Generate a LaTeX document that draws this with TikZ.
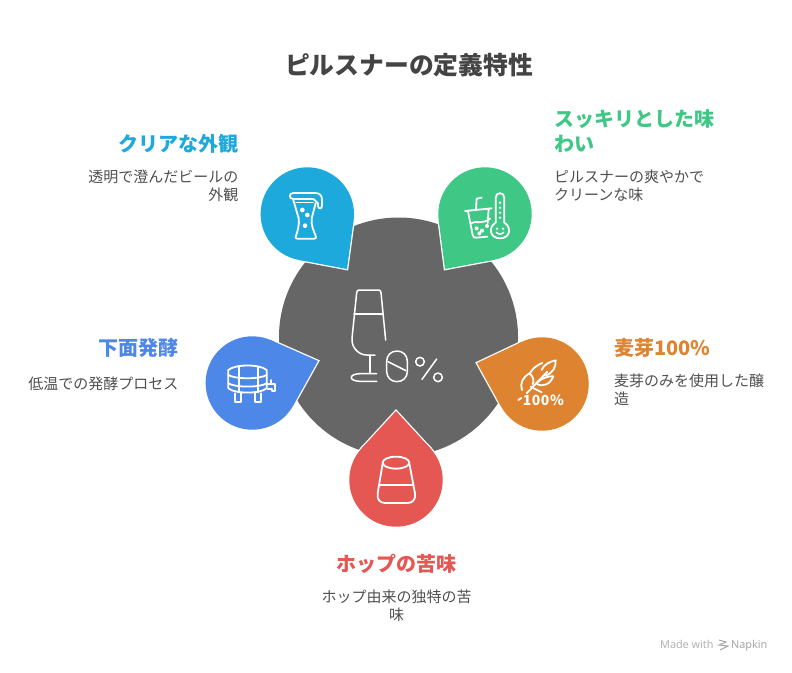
\documentclass[tikz,border=0pt]{standalone}
\usepackage{fontspec}
\setmainfont{Noto Sans CJK JP}
\newfontfamily\footfont{Noto Sans}
\definecolor{cBlue}{HTML}{1EA9DC}
\definecolor{cGreen}{HTML}{3EC785}
\definecolor{cOrange}{HTML}{DE8431}
\definecolor{cRed}{HTML}{E55753}
\definecolor{cIndigo}{HTML}{4D87E8}
\definecolor{cHub}{HTML}{666666}
\definecolor{cTitle}{HTML}{444444}
\definecolor{cBody}{HTML}{505050}
\tikzset{
  icon/.style={draw=white,line width=1.8pt,line cap=round,line join=round,fill=none},
  iconthin/.style={icon,line width=1.5pt},
  dot/.style={fill=white,draw=none},
  titletext/.style={font=\fontsize{24.8}{30}\selectfont\bfseries,text=cTitle,inner sep=0pt},
  headtext/.style={font=\fontsize{20}{25}\selectfont\bfseries,inner sep=0pt},
  bodytext/.style={font=\fontsize{15}{18}\selectfont,text=cBody,inner sep=0pt},
}
% \dropshape{cx}{cy}{tipx}{tipy}{colour}
\newcommand{\dropshape}[5]{%
  \pgfmathsetmacro{\dropd}{veclen(#3-#1,#4-#2)}%
  \pgfmathsetmacro{\dropa}{atan2(#4-#2,#3-#1)}%
  \pgfmathsetmacro{\dropb}{acos(46.7/\dropd)}%
  \pgfmathsetmacro{\dropP}{\dropa+\dropb}%
  \pgfmathsetmacro{\dropQ}{\dropa-\dropb}%
  \def\dropkite{(#3,#4) -- ({#1+46.7*cos(\dropP)},{#2+46.7*sin(\dropP)}) -- (#1,#2) -- ({#1+46.7*cos(\dropQ)},{#2+46.7*sin(\dropQ)}) -- cycle}%
  \draw[white,line width=2.6pt,line join=miter] \dropkite;
  \draw[white,line width=2.6pt] (#1,#2) circle[radius=46.7];
  \fill[#5] \dropkite;
  \fill[#5] (#1,#2) circle[radius=46.7];
}
\begin{document}
\begin{tikzpicture}[x=1pt,y=-1pt]
\useasboundingbox (0,0) rectangle (792,672);
\fill[white] (0,0) rectangle (792,672);
\node[titletext] (title) at (409,65.5) {ピルスナーの定義特性};
\fill[cHub] (398.5,337) circle[radius=119.5];
\dropshape{307.3}{214}{347}{269}{cBlue}
\dropshape{485}{214}{445}{269}{cGreen}
\dropshape{542}{384}{477}{363}{cOrange}
\dropshape{396}{480}{396}{411}{cRed}
\dropshape{252.3}{383}{318}{361}{cIndigo}
% hub icon
\begin{scope}[shift={(200,280)},scale=1/3]
\draw[iconthin] (557,180) -- (543,38) .. controls (542,32) and (540,30) .. (535,30) -- (478,30) .. controls (473,30) and (471,32) .. (470,38) -- (456,175) .. controls (454,205) and (478,225) .. (500,225) -- (525,225);
\draw[iconthin] (462,102) -- (548,102);
\draw[iconthin] (510,225) -- (510,281);
\draw[iconthin] (530,281) -- (480,281) .. controls (445,282) and (445,303) .. (480,304) -- (530,304);
\draw[iconthin] (591,213) .. controls (609,213) and (622,226) .. (622,244) -- (622,274) .. controls (622,292) and (609,305) .. (591,305) .. controls (573,305) and (560,292) .. (560,274) -- (560,244) .. controls (560,226) and (573,213) .. (591,213) -- cycle;
\draw[iconthin] (564,245) -- (618,272);
\draw[iconthin] (660,245) circle[radius=13];
\draw[iconthin] (714,292) circle[radius=13];
\draw[iconthin] (710,237) -- (666,298);
\end{scope}
% beer icon
\begin{scope}[shift={(280,185)},scale=1/3]
\draw[icon] (100,42) -- (40,42) .. controls (26,42) and (26,24) .. (40,24) -- (105,24) .. controls (120,24) and (126,32) .. (126,45) -- (126,62) .. controls (126,73) and (114,73) .. (114,62) -- (114,55) .. controls (114,48) and (103,50) .. (100,42);
\draw[icon] (40,45) -- (56,100) .. controls (59,115) and (53,140) .. (47,155) .. controls (46,160) and (49,161) .. (52,161) -- (102,161) .. controls (107,161) and (109,159) .. (108,155) .. controls (102,140) and (92,120) .. (95,100) -- (107,55);
\draw[iconthin] (48,53) -- (100,53);
\fill[dot] (67,75) circle[radius=7] (82,90) circle[radius=7] (75,122) circle[radius=7];
\end{scope}
% cup and thermometer icon
\begin{scope}[shift={(250,160)},scale=1/3]
\draw[icon] (645,153) -- (725,145);
\draw[icon] (654,154) -- (668,225) .. controls (669,231) and (672,233) .. (678,233) -- (712,230);
\draw[icon] (716,147) -- (713,190);
\draw[icon] (678,148) -- (680,116) -- (695,113);
\draw[icon] (661,190) .. controls (680,180) and (695,195) .. (720,176);
\fill[dot] (680,205) circle[radius=6] (696,212) circle[radius=6] (711,198) circle[radius=6] (688,220) circle[radius=6];
\draw[icon] (737,188) -- (737,113) .. controls (737,95) and (763,95) .. (763,113) -- (763,188) .. controls (785,200) and (782,235) .. (750,235) .. controls (718,235) and (715,200) .. (737,188) -- cycle;
\fill[dot] (750,128) circle[radius=4] (750,143) circle[radius=4] (750,158) circle[radius=4] (750,173) circle[radius=4];
\fill[dot] (741,206) circle[radius=4] (759,206) circle[radius=4];
\draw[iconthin] (739,217) .. controls (745,224) and (755,224) .. (761,217);
\end{scope}
% wheat icon
\begin{scope}[shift={(510,355)},scale=1/3]
\draw[icon] (50,115) -- (112,50);
\draw[icon] (95,45) .. controls (100,30) and (118,20) .. (137,16) .. controls (138,35) and (130,55) .. (105,62);
\draw[icon] (78,85) .. controls (95,70) and (115,62) .. (130,64) .. controls (122,85) and (100,100) .. (78,85);
\draw[icon] (58,58) .. controls (66,42) and (80,30) .. (97,24);
\draw[icon] (36,105) .. controls (28,85) and (40,65) .. (58,55) .. controls (68,62) and (74,75) .. (68,88);
\draw[icon] (62,95) -- (95,112);
\draw[icon] (25,135) -- (34,129);
\node[inner sep=0pt,text=white,font=\fontsize{14}{14}\selectfont\bfseries\addfontfeature{LetterSpace=4}] (wheatlabel) at (100,137) {100\%};
\end{scope}
% kettle icon
\begin{scope}[shift={(340,330)},scale=1/3]
\draw[icon] (168,398) ellipse[x radius=40,y radius=18];
\draw[icon] (128,400) -- (113,490) .. controls (110,508) and (120,519) .. (135,519) -- (203,519) .. controls (218,519) and (228,508) .. (225,490) -- (208,400);
\draw[icon] (118,466) -- (220,466);
\end{scope}
% barrel icon
\begin{scope}[shift={(220,360)},scale=1/3]
\draw[icon] (25,30) .. controls (45,12) and (120,12) .. (140,30) -- (140,85) .. controls (120,102) and (45,102) .. (25,85) -- cycle;
\draw[icon] (25,45) .. controls (45,58) and (120,58) .. (140,45);
\draw[icon] (25,70) .. controls (45,83) and (120,83) .. (140,70);
\draw[icon] (57,20) -- (57,97);
\draw[icon] (113,20) -- (113,97);
\draw[icon] (45,100) -- (45,125) -- (62,125) -- (62,100);
\draw[icon] (105,100) -- (105,125) -- (122,125) -- (122,100);
\draw[icon] (140,72) -- (165,72) -- (165,92);
\draw[icon] (152,60) -- (152,72);
\draw[icon] (143,87) -- (155,87) -- (155,92) -- (165,92);
\end{scope}
% labels
\node[headtext,text=cBlue,anchor=east] (h1) at (238.5,143.5) {クリアな外観};
\node[bodytext,anchor=east,align=right] (b1) at (238.5,186) {透明で澄んだビールの\\外観};
\node[headtext,text=cGreen,anchor=west,align=left] (h2) at (554,131) {スッキリとした味\\わい};
\node[bodytext,anchor=west,align=left] (b2) at (554,186) {ピルスナーの爽やかで\\クリーンな味};
\node[headtext,text=cOrange,anchor=west] (h3) at (614,347.5) {麦芽100\%};
\node[bodytext,anchor=west,align=left] (b3) at (614,390) {麦芽のみを使用した醸\\造};
\node[headtext,text=cRed] (h4) at (396.5,563.5) {ホップの苦味};
\node[bodytext,align=center] (b4) at (396.5,606) {ホップ由来の独特の苦\\味};
\node[headtext,text=cIndigo,anchor=east] (h5) at (178.5,347.5) {下面発酵};
\node[bodytext,anchor=east] (b5) at (178.5,384) {低温での発酵プロセス};
% footer
\node[inner sep=0pt,anchor=base west,text=black!30,font=\footfont\fontsize{10.8}{12}\selectfont] (made) at (660,648.5) {Made with};
\node[inner sep=0pt,anchor=base west,text=black!35,font=\footfont\fontsize{10.8}{12}\selectfont] (napkin) at (731,648.5) {Napkin};
\draw[black!35,line width=1pt] (719,640) -- (726,642) -- (719,645) -- (728,646) -- (720,650);
\end{tikzpicture}
\end{document}
